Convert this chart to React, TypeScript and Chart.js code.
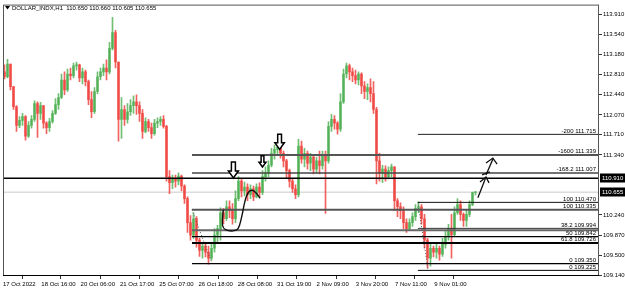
import React, { useEffect, useRef } from 'react';
import { Chart, registerables } from 'chart.js';

Chart.register(...registerables);

const FONT = "'Liberation Sans', Arial, sans-serif";

// ---------- data ----------
const TITLE_TEXT = 'DOLLAR_INDX,H1  110.650 110.660 110.605 110.655';
const FIRST_OPEN = 112.86;
const CLOSES = [
  112.77, 113.0, 112.59, 112.22, 111.88, 111.97, 112.04, 111.68, 111.88, 111.99,
  112.28, 112.1, 112.24, 111.92, 111.84, 111.95, 112.1, 112.26, 112.39, 112.71,
  112.53, 112.82, 112.79, 112.97, 112.99, 112.75, 112.86, 112.68, 112.35, 112.13,
  112.5, 112.77, 112.86, 112.93, 112.86, 113.29, 113.58, 113.04, 111.99, 112.17,
  111.99, 112.13, 112.24, 112.31, 112.24, 112.1, 111.77, 111.95, 111.84, 111.73,
  111.92, 111.95, 111.99, 111.86, 110.94, 110.83, 110.9, 110.86, 110.95, 110.77,
  110.54, 110.1, 109.87, 110.17, 109.78, 109.59, 109.67, 109.56, 109.45, 109.63,
  109.87, 109.99, 110.28, 110.17, 110.39, 110.32, 110.17, 110.54, 110.86, 110.68,
  110.75, 110.61, 110.72, 110.57, 110.75, 110.65, 110.94, 111.01, 111.15, 111.37,
  111.44, 111.48, 111.37, 111.23, 111.05, 110.86, 110.72, 110.61, 111.5, 111.26,
  111.37, 111.19, 111.3, 111.08, 111.23, 111.14, 111.32, 111.23, 111.86, 111.99,
  111.92, 111.81, 112.31, 112.82, 112.97, 112.86, 112.79, 112.71, 112.82, 112.6,
  112.5, 112.57, 112.46, 112.17, 111.23, 111.01, 111.08, 110.94, 111.05, 111.12,
  110.5, 110.39, 110.32, 110.1, 109.99, 110.1, 110.21, 110.36, 110.39, 110.17,
  109.78, 109.45, 109.63, 109.56, 109.63, 109.52, 109.7, 109.85, 109.99, 109.88,
  110.28, 110.43, 110.25, 110.14, 110.25, 110.43, 110.65, 110.655,
];
const HIGHS = [
  112.99, 113.09, 113.0, 112.59, 112.24, 112.04, 112.1, 112.06, 111.95, 112.06,
  112.33, 112.31, 112.3, 112.24, 111.95, 112.01, 112.15, 112.37, 112.46, 112.82,
  112.86, 112.91, 112.93, 113.02, 113.04, 113.0, 112.93, 112.89, 112.71, 112.5,
  112.57, 112.86, 112.93, 113.0, 113.08, 113.4, 113.86, 113.62, 113.04, 112.39,
  112.24, 112.28, 112.35, 112.42, 112.44, 112.31, 112.17, 112.02, 111.99, 111.92,
  111.99, 112.02, 112.04, 112.06, 111.88, 111.05, 110.97, 110.97, 111.01, 110.97,
  110.79, 110.57, 110.23, 110.28, 110.21, 109.81, 109.74, 109.7, 109.67, 109.74,
  109.99, 110.05, 110.37, 110.36, 110.5, 110.5, 110.45, 110.68, 110.94, 110.9,
  110.84, 110.81, 110.79, 110.77, 110.81, 110.83, 111.05, 111.12, 111.23, 111.46,
  111.52, 111.55, 111.53, 111.41, 111.26, 111.08, 110.9, 110.79, 111.63, 111.59,
  111.46, 111.41, 111.37, 111.34, 111.3, 111.41, 111.41, 111.41, 111.95, 112.08,
  112.06, 111.95, 112.46, 112.91, 113.02, 113.0, 112.93, 112.89, 112.86, 112.84,
  112.68, 112.64, 112.73, 112.68, 112.21, 111.37, 111.15, 111.14, 111.12, 111.17,
  111.12, 110.54, 110.46, 110.39, 110.17, 110.17, 110.28, 110.43, 110.48, 110.43,
  110.25, 109.81, 109.72, 109.67, 109.7, 109.67, 109.81, 109.96, 110.07, 110.25,
  110.39, 110.54, 110.5, 110.28, 110.32, 110.5, 110.66, 110.66,
];
const LOWS = [
  112.73, 112.75, 112.53, 112.17, 111.77, 111.84, 111.88, 111.61, 111.66, 111.83,
  111.95, 111.66, 111.99, 111.83, 111.73, 111.77, 111.92, 112.08, 112.17, 112.37,
  112.44, 112.5, 112.71, 112.75, 112.89, 112.68, 112.64, 112.6, 112.26, 112.02,
  112.1, 112.46, 112.71, 112.79, 112.71, 112.82, 113.26, 112.93, 111.59, 111.64,
  111.88, 111.92, 112.06, 112.1, 112.08, 111.95, 111.64, 111.74, 111.77, 111.64,
  111.7, 111.84, 111.88, 111.83, 110.86, 110.63, 110.72, 110.75, 110.79, 110.68,
  110.45, 109.92, 109.78, 109.81, 109.65, 109.48, 109.45, 109.47, 109.34, 109.41,
  109.56, 109.72, 109.78, 110.08, 110.14, 110.19, 110.07, 110.1, 110.5, 110.57,
  110.59, 110.5, 110.54, 110.5, 110.55, 110.57, 110.61, 110.86, 110.94, 111.12,
  111.26, 111.34, 111.28, 111.12, 110.92, 110.75, 110.65, 110.54, 110.57, 111.19,
  111.12, 111.08, 111.05, 110.99, 111.01, 110.99, 111.08, 110.27, 111.19, 111.77,
  111.81, 111.72, 111.77, 112.28, 112.75, 112.71, 112.68, 112.64, 112.62, 112.46,
  112.37, 112.35, 112.31, 112.1, 110.81, 110.86, 110.83, 110.86, 110.9, 110.94,
  110.32, 110.21, 110.17, 109.99, 109.92, 109.96, 110.03, 110.14, 110.28, 110.07,
  109.63, 109.27, 109.3, 109.47, 109.45, 109.41, 109.48, 109.63, 109.78, 109.45,
  109.85, 110.25, 110.14, 110.03, 110.03, 110.21, 110.41, 110.605,
];

const TIME_LABELS = [
  '17 Oct 2022', '18 Oct 16:00', '20 Oct 06:00', '21 Oct 17:00', '25 Oct 07:00', '26 Oct 18:00',
  '28 Oct 08:00', '31 Oct 19:00', '2 Nov 09:00', '3 Nov 20:00', '7 Nov 11:00', '9 Nov 01:00',
];
const TIME_TICK_SLOTS = [0, 12.77, 25.87, 38.97, 52.07, 65.17, 78.27, 91.37, 104.47, 117.57, 130.67, 143.77];

const PRICE_TICKS = [113.91, 113.54, 113.18, 112.81, 112.44, 112.07, 111.71, 111.34, 110.24, 109.87, 109.5, 109.14];

const LEVEL_PRICES = [111.715, 111.339, 111.007, 110.91, 110.47, 110.335, 109.994, 109.959, 109.8425, 109.726, 109.35, 109.225];
const LEVEL_LABELS = ['-200 111.715', '-1600 111.339', '-168.2 111.007', '', '100 110.470', '100 110.335', '38.2 109.994', '', '50 109.842', '61.8 109.726', '0 109.350', '0 109.225'];
const LEVEL_START = [138.3, 63, 63, 0, 138.3, 63, 138.3, 63, 63, 63, 63, 138.3];

const BID_PRICE = 110.655;
const MARKER_PRICES = [110.91, 110.655];

const TREND_B_X = [63, 69.7];
const TREND_B_Y = [110.335, 109.35];
const TREND_A_X = [138.3, 141.7];
const TREND_A_Y = [110.47, 109.225];

const CURVE_X = [73.4, 73.2, 74.3, 76.7, 78.3, 79.5, 80.7, 81.7, 83, 84.3, 85.7];
const CURVE_Y = [110.33, 110.047, 109.966, 109.948, 109.984, 110.192, 110.501, 110.646, 110.691, 110.646, 110.546];

const STROKES_X = [
  [158.3, 161],
  [159, 161, 162],
  [159.7, 162.3],
  [161, 163.3],
  [161, 163.3, 164.7],
];
const STROKES_Y = [
  [110.555, 110.936],
  [110.845, 110.936, 110.827],
  [110.972, 111.027],
  [110.972, 111.262],
  [111.19, 111.281, 111.172],
];

const DOWN_ARROW_X = [76.8, 86.5, 92.2];
const DOWN_ARROW_Y = [110.918, 111.117, 111.44];

// ---------- styles ----------
const BULL = 'rgba(76,175,80,0.8)';
const BEAR = 'rgba(240,70,66,0.85)';
const X_MAX = 198.67;
const Y_MIN = 109.122;
const Y_MAX = 114.091;
const LEVEL_STYLE: [string, number][] = [
  ['#222', 1], ['#555', 2], ['#444', 1.5], ['#000', 1.5], ['#111', 1], ['#555', 2],
  ['#333', 1], ['#666', 2], ['#000', 1.2], ['#000', 2], ['#000', 1.2], ['#000', 1],
];
const ARROW_SCALE = [1, 0.7, 0.95];

export default function App() {
  const ref = useRef<HTMLCanvasElement>(null);

  useEffect(() => {
    document.body.style.margin = '0';
    const canvas = ref.current!;
    const opens = CLOSES.map((c, i) => (i === 0 ? FIRST_OPEN : CLOSES[i - 1]));
    const colors = CLOSES.map((c, i) => (c >= opens[i] ? BULL : BEAR));

    const datasets: any[] = [];
    datasets.push({
      type: 'line',
      data: [{ x: 0, y: BID_PRICE }, { x: X_MAX, y: BID_PRICE }],
      borderColor: '#dcdcdc', borderWidth: 1.5, pointRadius: 0, order: 5,
    });
    datasets.push({
      type: 'bar',
      data: CLOSES.map((_, i) => ({ x: i + 0.5, y: [LOWS[i], HIGHS[i]] })),
      backgroundColor: colors, barThickness: 1, grouped: false, borderWidth: 0, order: 4,
    });
    datasets.push({
      type: 'bar',
      data: CLOSES.map((c, i) => ({ x: i + 0.5, y: [opens[i], c] })),
      backgroundColor: colors, barThickness: 2, minBarLength: 1, grouped: false, borderWidth: 0, order: 3,
    });
    LEVEL_PRICES.forEach((p, k) => {
      datasets.push({
        type: 'line',
        data: [{ x: LEVEL_START[k], y: p }, { x: X_MAX, y: p }],
        borderColor: LEVEL_STYLE[k][0], borderWidth: LEVEL_STYLE[k][1], pointRadius: 0, order: 1,
      });
    });
    [[TREND_B_X, TREND_B_Y], [TREND_A_X, TREND_A_Y]].forEach(([xs, ys]) => {
      datasets.push({
        type: 'line',
        data: xs.map((x, j) => ({ x, y: ys[j] })),
        borderColor: '#555', borderWidth: 1, borderDash: [1, 2], pointRadius: 0, order: 1,
      });
    });
    datasets.push({
      type: 'line',
      data: CURVE_X.map((x, j) => ({ x, y: CURVE_Y[j] })),
      borderColor: '#111', borderWidth: 1.4, pointRadius: 0, tension: 0.4, order: 0,
    });
    STROKES_X.forEach((xs, k) => {
      datasets.push({
        type: 'line',
        data: xs.map((x, j) => ({ x, y: STROKES_Y[k][j] })),
        borderColor: '#111', borderWidth: 1.3, pointRadius: 0, order: 0,
      });
    });

    const overlay = {
      id: 'overlay',
      afterDraw(chart: any) {
        const { ctx, chartArea: a, scales } = chart;
        const xs = scales.x;
        const ys = scales.y;
        ctx.save();
        // frame
        ctx.strokeStyle = '#555';
        ctx.lineWidth = 1;
        ctx.strokeRect(a.left + 0.5, a.top + 0.5, a.right - a.left - 1, a.bottom - a.top - 1);
        ctx.strokeStyle = '#000';
        ctx.beginPath();
        ctx.moveTo(a.left, a.bottom - 0.5);
        ctx.lineTo(a.right, a.bottom - 0.5);
        ctx.stroke();
        // title
        ctx.fillStyle = '#000';
        ctx.beginPath();
        ctx.moveTo(a.left + 2, 6);
        ctx.lineTo(a.left + 7, 6);
        ctx.lineTo(a.left + 4.5, 9.5);
        ctx.closePath();
        ctx.fill();
        ctx.font = `6px ${FONT}`;
        ctx.textAlign = 'left';
        ctx.textBaseline = 'middle';
        ctx.fillText(TITLE_TEXT, a.left + 9, 8);
        // level labels
        ctx.textAlign = 'right';
        ctx.textBaseline = 'bottom';
        LEVEL_LABELS.forEach((t, k) => {
          if (!t) return;
          const y = ys.getPixelForValue(LEVEL_PRICES[k]);
          ctx.fillText(t, a.right - 3, y - 0.5);
        });
        // hollow down arrows
        DOWN_ARROW_X.forEach((v, k) => {
          const px = xs.getPixelForValue(v);
          const py = ys.getPixelForValue(DOWN_ARROW_Y[k]);
          const s = ARROW_SCALE[k];
          const H = 16 * s, hh = 7 * s, hw = 10 * s, sw = 4 * s;
          ctx.beginPath();
          ctx.moveTo(px, py);
          ctx.lineTo(px - hw / 2, py - hh);
          ctx.lineTo(px - sw / 2, py - hh);
          ctx.lineTo(px - sw / 2, py - H);
          ctx.lineTo(px + sw / 2, py - H);
          ctx.lineTo(px + sw / 2, py - hh);
          ctx.lineTo(px + hw / 2, py - hh);
          ctx.closePath();
          ctx.fillStyle = '#fff';
          ctx.fill();
          ctx.strokeStyle = '#000';
          ctx.lineWidth = 1.5;
          ctx.stroke();
        });
        // price markers on axis
        ctx.textAlign = 'left';
        ctx.textBaseline = 'middle';
        MARKER_PRICES.forEach((p) => {
          const y = Math.round(ys.getPixelForValue(p));
          ctx.fillStyle = '#000';
          ctx.fillRect(a.right + 1, y - 4.5, 25, 9);
          ctx.fillStyle = '#fff';
          ctx.fillText(p.toFixed(3), a.right + 3, y);
        });
        ctx.restore();
      },
    };

    const chart = new Chart(canvas, {
      type: 'bar',
      data: { datasets },
      options: {
        animation: false,
        responsive: false,
        devicePixelRatio: 1,
        events: [],
        layout: { padding: { left: 3, top: 2, right: 0, bottom: 0 } },
        plugins: { legend: { display: false }, tooltip: { enabled: false } },
        scales: {
          x: {
            type: 'linear',
            min: 0,
            max: X_MAX,
            offset: false,
            afterBuildTicks: (s: any) => {
              s.ticks = TIME_TICK_SLOTS.map((v) => ({ value: v }));
            },
            afterFit: (s: any) => {
              s.height = 16;
            },
            border: { display: false },
            grid: { drawOnChartArea: false, drawTicks: true, tickLength: 3, color: '#333' },
            ticks: {
              autoSkip: false,
              maxRotation: 0,
              align: 'start',
              padding: 2,
              color: '#000',
              font: { size: 6, family: FONT },
              callback: (_v: any, i: number) => TIME_LABELS[i],
            },
          },
          y: {
            type: 'linear',
            position: 'right',
            min: Y_MIN,
            max: Y_MAX,
            afterBuildTicks: (s: any) => {
              s.ticks = PRICE_TICKS.map((v) => ({ value: v }));
            },
            afterFit: (s: any) => {
              s.width = 26;
            },
            border: { display: false },
            grid: { drawOnChartArea: false, drawTicks: true, tickLength: 3, color: '#333' },
            ticks: {
              padding: 1,
              color: '#000',
              font: { size: 6, family: FONT },
              callback: (v: any) => Number(v).toFixed(3),
            },
          },
        },
      } as any,
      plugins: [overlay],
    });
    return () => chart.destroy();
  }, []);

  return (
    <div style={{ position: 'absolute', left: 0, top: 0, width: 625, height: 292, background: '#fff' }}>
      <canvas ref={ref} width={625} height={292} style={{ display: 'block' }} />
    </div>
  );
}
